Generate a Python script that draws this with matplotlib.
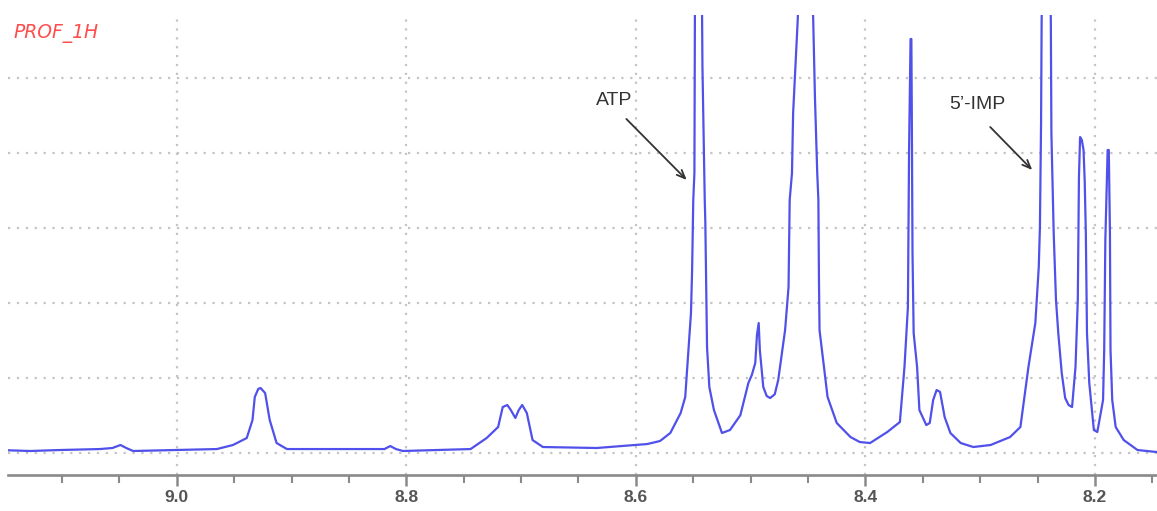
import matplotlib
matplotlib.use('Agg')
import matplotlib.pyplot as plt
from matplotlib.ticker import MultipleLocator

# chemical shift (ppm) and intensity
ppm = [9.154, 9.128, 9.102, 9.067, 9.056, 9.049, 9.044, 9.038, 9.000, 8.965,
       8.951, 8.939, 8.934, 8.932, 8.929, 8.927, 8.923, 8.919, 8.913, 8.904,
       8.866, 8.819, 8.814, 8.809, 8.803, 8.744, 8.730, 8.720, 8.716, 8.712,
       8.709, 8.705, 8.702, 8.699, 8.695, 8.690, 8.681, 8.634, 8.590, 8.579,
       8.570, 8.561, 8.557, 8.554, 8.552, 8.551, 8.550, 8.549, 8.5485, 8.545,
       8.5425, 8.542, 8.540, 8.5395, 8.538, 8.536, 8.532, 8.525, 8.518, 8.509,
       8.502, 8.499, 8.496, 8.4945, 8.493, 8.492, 8.489, 8.486, 8.483, 8.479,
       8.476, 8.470, 8.467, 8.466, 8.464, 8.463, 8.460, 8.459, 8.452, 8.4455,
       8.444, 8.442, 8.441, 8.4405, 8.440, 8.433, 8.425, 8.413, 8.405, 8.396,
       8.381, 8.370, 8.366, 8.363, 8.362, 8.3607, 8.3600, 8.3596, 8.359, 8.358,
       8.355, 8.353, 8.347, 8.344, 8.341, 8.338, 8.335, 8.331, 8.326, 8.317,
       8.306, 8.291, 8.274, 8.265, 8.258, 8.252, 8.249, 8.248, 8.247, 8.2465,
       8.2425, 8.2385, 8.238, 8.236, 8.234, 8.232, 8.229, 8.226, 8.223, 8.220,
       8.217, 8.215, 8.214, 8.213, 8.2115, 8.210, 8.209, 8.208, 8.207, 8.205,
       8.201, 8.198, 8.193, 8.192, 8.191, 8.189, 8.188, 8.187, 8.1865, 8.185,
       8.182, 8.175, 8.163, 8.146]
intensity = [0.036, 0.023, 0.036, 0.049, 0.063, 0.103, 0.063, 0.023, 0.036, 0.049,
             0.103, 0.196, 0.436, 0.743, 0.850, 0.863, 0.796, 0.436, 0.129, 0.049,
             0.049, 0.049, 0.089, 0.049, 0.023, 0.049, 0.196, 0.343, 0.609, 0.636,
             0.570, 0.463, 0.570, 0.636, 0.529, 0.169, 0.076, 0.063, 0.116, 0.156,
             0.263, 0.529, 0.743, 1.409, 1.863, 2.436, 3.369, 3.729, 6.200, 9.000,
             6.200, 5.143, 3.369, 3.076, 1.409, 0.876, 0.569, 0.263, 0.303, 0.500,
             0.929, 1.036, 1.196, 1.570, 1.729, 1.369, 0.876, 0.756, 0.729, 0.780,
             0.969, 1.636, 2.209, 3.369, 3.729, 4.529, 5.463, 5.770, 9.000, 5.770,
             4.743, 3.729, 3.369, 2.303, 1.636, 0.743, 0.396, 0.209, 0.143, 0.129,
             0.276, 0.409, 1.143, 1.943, 4.030, 5.516, 5.516, 4.500, 2.663, 1.596,
             1.143, 0.569, 0.369, 0.396, 0.703, 0.836, 0.810, 0.476, 0.263, 0.129,
             0.076, 0.103, 0.209, 0.343, 1.143, 1.729, 2.476, 3.009, 4.396, 5.770,
             9.000, 5.770, 4.263, 2.929, 2.036, 1.596, 1.063, 0.729, 0.636, 0.609,
             1.143, 2.036, 3.676, 4.209, 4.170, 4.036, 3.630, 2.929, 1.596, 0.929,
             0.303, 0.276, 0.703, 1.369, 2.836, 4.036, 4.036, 2.929, 1.369, 0.703,
             0.343, 0.169, 0.036, 0.009]

major_ticks = [9.0, 8.8, 8.6, 8.4, 8.2]
tick_labels = ['9.0', '8.8', '8.6', '8.4', '8.2']
grid_levels = [0, 1, 2, 3, 4, 5]

fig = plt.figure(figsize=(11.57, 5.11), dpi=100)
ax = fig.add_axes([8 / 1157, 36 / 511, 1149 / 1157, 460 / 511])

ax.plot(ppm, intensity, color='#5050ea', lw=1.6, zorder=3)

ax.set_xlim(9.147, 8.146)
ax.set_ylim(-0.297, 5.836)

for side in ['left', 'right', 'top']:
    ax.spines[side].set_visible(False)
ax.spines['bottom'].set_color('#8a8a8a')
ax.spines['bottom'].set_linewidth(1.9)

ax.set_xticks(major_ticks)
ax.set_xticklabels(tick_labels, fontweight='bold', family='Liberation Sans')
ax.xaxis.set_minor_locator(MultipleLocator(0.05))
ax.set_yticks(grid_levels)
ax.tick_params(axis='y', length=0, labelleft=False)
ax.tick_params(axis='x', which='major', length=8, width=1.8, color='#8a8a8a',
               labelsize=12.5, labelcolor='#555555', pad=3)
ax.tick_params(axis='x', which='minor', length=6, width=1.5, color='#8a8a8a')

ax.set_axisbelow(True)
ax.grid(True, which='major', linestyle=(0, (1, 3)), color='#c4c4c4', lw=1.6)

# labels
ax.text(5 / 1149, 1 - 18 / 460, 'PROF_1H', transform=ax.transAxes,
        color='#ff4d4d', fontsize=13.5, fontstyle='italic', ha='left', va='center')

ax.text(8.6185, 4.70, 'ATP', fontsize=14, color='#333333', ha='center', va='center',
        family='Liberation Sans')
ax.annotate('', xy=(8.554, 3.61), xytext=(8.610, 4.476),
            arrowprops=dict(arrowstyle='->,head_length=0.6,head_width=0.25',
                            color='#333333', lw=1.3))

ax.text(8.3025, 4.64, '5\u2019-IMP', fontsize=14, color='#333333', ha='center',
        va='center', family='Liberation Sans')
ax.annotate('', xy=(8.253, 3.743), xytext=(8.293, 4.369),
            arrowprops=dict(arrowstyle='->,head_length=0.6,head_width=0.25',
                            color='#333333', lw=1.3))

fig.savefig('out.png', dpi=100)
